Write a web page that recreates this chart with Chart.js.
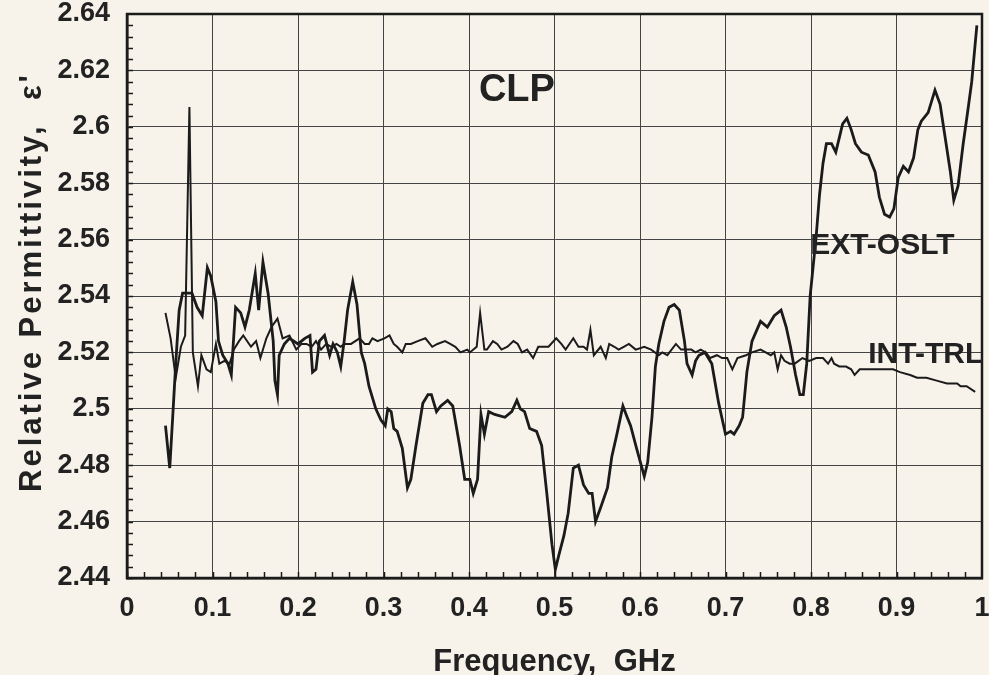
<!DOCTYPE html>
<html>
<head>
<meta charset="utf-8">
<script src="https://cdn.jsdelivr.net/npm/chart.js@4.4.0/dist/chart.umd.min.js"></script>
<style>
  html, body { margin: 0; padding: 0; background: #f7f2ea; }
  #wrap { width: 989px; height: 675px; }
</style>
</head>
<body>
<div id="wrap"><canvas id="chart" width="989" height="675"></canvas></div>
<script>
// INT-TRL measurement (frequency in GHz, relative permittivity)
const intFreq = [0.045, 0.051, 0.057, 0.063, 0.068, 0.073, 0.077, 0.083, 0.087, 0.093, 0.098,
  0.104, 0.108, 0.114, 0.120, 0.125, 0.131, 0.136, 0.145, 0.151, 0.156, 0.163, 0.169, 0.176,
  0.182, 0.190, 0.198, 0.204, 0.210, 0.216, 0.221, 0.227, 0.233, 0.239, 0.245, 0.250, 0.254,
  0.262, 0.272, 0.278, 0.283, 0.287, 0.293, 0.301, 0.307, 0.312, 0.316, 0.322, 0.326, 0.332,
  0.340, 0.349, 0.357, 0.363, 0.372, 0.378, 0.384, 0.390, 0.398, 0.401, 0.409, 0.413, 0.418,
  0.421, 0.428, 0.433, 0.438, 0.445, 0.452, 0.457, 0.462, 0.468, 0.475, 0.481, 0.487, 0.493,
  0.502, 0.508, 0.513, 0.522, 0.528, 0.534, 0.538, 0.542, 0.546, 0.554, 0.560, 0.564, 0.570,
  0.575, 0.581, 0.587, 0.595, 0.605, 0.613, 0.622, 0.626, 0.632, 0.642, 0.648, 0.654, 0.660,
  0.665, 0.671, 0.677, 0.682, 0.690, 0.696, 0.702, 0.708, 0.714, 0.724, 0.731, 0.741, 0.747,
  0.753, 0.757, 0.761, 0.765, 0.769, 0.775, 0.781, 0.790, 0.798, 0.806, 0.814, 0.820, 0.824,
  0.827, 0.833, 0.841, 0.847, 0.851, 0.857, 0.865, 0.876, 0.888, 0.896, 0.904, 0.916, 0.924,
  0.935, 0.947, 0.959, 0.971, 0.975, 0.982, 0.992];
const intEps = [2.534, 2.525, 2.511, 2.522, 2.526, 2.607, 2.520, 2.508, 2.519, 2.514, 2.513,
  2.523, 2.516, 2.517, 2.516, 2.521, 2.524, 2.526, 2.522, 2.524, 2.518, 2.525, 2.529, 2.532,
  2.525, 2.526, 2.521, 2.523, 2.523, 2.522, 2.524, 2.521, 2.523, 2.522, 2.523, 2.522, 2.523,
  2.523, 2.525, 2.523, 2.523, 2.525, 2.524, 2.525, 2.526, 2.523, 2.522, 2.520, 2.523, 2.523,
  2.524, 2.525, 2.522, 2.523, 2.524, 2.523, 2.522, 2.520, 2.521, 2.520, 2.522, 2.534, 2.521,
  2.521, 2.524, 2.523, 2.521, 2.522, 2.524, 2.523, 2.520, 2.521, 2.518, 2.522, 2.522, 2.522,
  2.525, 2.523, 2.521, 2.525, 2.522, 2.522, 2.521, 2.528, 2.519, 2.522, 2.518, 2.523, 2.522,
  2.521, 2.522, 2.523, 2.521, 2.522, 2.521, 2.519, 2.520, 2.519, 2.523, 2.521, 2.521, 2.521,
  2.520, 2.521, 2.520, 2.518, 2.519, 2.518, 2.518, 2.514, 2.518, 2.519, 2.520, 2.521, 2.520,
  2.519, 2.520, 2.514, 2.519, 2.517, 2.516, 2.516, 2.518, 2.517, 2.518, 2.518, 2.516, 2.518,
  2.516, 2.515, 2.515, 2.514, 2.512, 2.514, 2.514, 2.514, 2.514, 2.514, 2.513, 2.512, 2.511,
  2.511, 2.510, 2.509, 2.509, 2.508, 2.508, 2.506];

// EXT-OSLT measurement
const extFreq = [0.045, 0.050, 0.054, 0.057, 0.061, 0.065, 0.069, 0.076, 0.082, 0.088, 0.094,
  0.098, 0.104, 0.107, 0.112, 0.118, 0.122, 0.127, 0.133, 0.138, 0.143, 0.150, 0.154, 0.159,
  0.165, 0.171, 0.173, 0.176, 0.178, 0.184, 0.190, 0.200, 0.208, 0.214, 0.217, 0.221, 0.225,
  0.231, 0.237, 0.241, 0.246, 0.250, 0.254, 0.258, 0.264, 0.269, 0.274, 0.278, 0.283, 0.291,
  0.297, 0.302, 0.305, 0.309, 0.312, 0.316, 0.322, 0.328, 0.332, 0.338, 0.346, 0.352, 0.356,
  0.362, 0.367, 0.375, 0.381, 0.389, 0.395, 0.401, 0.405, 0.410, 0.414, 0.418, 0.423, 0.430,
  0.442, 0.450, 0.456, 0.460, 0.465, 0.471, 0.479, 0.485, 0.491, 0.497, 0.501, 0.505, 0.511,
  0.516, 0.522, 0.528, 0.534, 0.540, 0.544, 0.548, 0.554, 0.562, 0.567, 0.573, 0.580, 0.585,
  0.589, 0.596, 0.605, 0.609, 0.614, 0.618, 0.622, 0.628, 0.634, 0.640, 0.646, 0.652, 0.655,
  0.661, 0.665, 0.669, 0.676, 0.684, 0.692, 0.700, 0.706, 0.710, 0.716, 0.720, 0.725, 0.731,
  0.741, 0.749, 0.757, 0.765, 0.771, 0.776, 0.782, 0.787, 0.791, 0.795, 0.799, 0.806, 0.810,
  0.814, 0.818, 0.824, 0.829, 0.833, 0.837, 0.842, 0.847, 0.852, 0.859, 0.867, 0.875, 0.880,
  0.886, 0.892, 0.897, 0.902, 0.908, 0.914, 0.920, 0.925, 0.929, 0.937, 0.941, 0.945, 0.951,
  0.957, 0.963, 0.967, 0.972, 0.978, 0.984, 0.988, 0.994];
const extEps = [2.494, 2.479, 2.500, 2.516, 2.535, 2.541, 2.541, 2.541, 2.536, 2.533, 2.550,
  2.547, 2.538, 2.524, 2.519, 2.516, 2.512, 2.536, 2.534, 2.529, 2.535, 2.548, 2.535, 2.552,
  2.541, 2.524, 2.510, 2.505, 2.519, 2.523, 2.525, 2.523, 2.525, 2.526, 2.513, 2.514, 2.524,
  2.526, 2.519, 2.523, 2.520, 2.515, 2.524, 2.535, 2.545, 2.537, 2.520, 2.516, 2.508, 2.500,
  2.496, 2.494, 2.500, 2.499, 2.493, 2.492, 2.486, 2.472, 2.475, 2.487, 2.502, 2.505, 2.505,
  2.499, 2.501, 2.503, 2.501, 2.487, 2.475, 2.475, 2.470, 2.475, 2.498, 2.491, 2.499, 2.498,
  2.497, 2.499, 2.503, 2.500, 2.499, 2.493, 2.492, 2.487, 2.470, 2.452, 2.443, 2.448, 2.455,
  2.463, 2.479, 2.480, 2.473, 2.470, 2.470, 2.460, 2.465, 2.472, 2.483, 2.491, 2.501, 2.497,
  2.494, 2.486, 2.476, 2.481, 2.497, 2.515, 2.523, 2.531, 2.536, 2.537, 2.535, 2.524, 2.516,
  2.512, 2.517, 2.519, 2.520, 2.516, 2.502, 2.491, 2.492, 2.491, 2.494, 2.497, 2.513, 2.524,
  2.531, 2.529, 2.533, 2.535, 2.529, 2.522, 2.512, 2.505, 2.505, 2.516, 2.540, 2.561, 2.576,
  2.587, 2.594, 2.594, 2.591, 2.596, 2.601, 2.603, 2.599, 2.594, 2.591, 2.590, 2.584, 2.575,
  2.569, 2.568, 2.571, 2.582, 2.586, 2.584, 2.589, 2.599, 2.602, 2.605, 2.609, 2.613, 2.608,
  2.596, 2.584, 2.574, 2.579, 2.594, 2.607, 2.616, 2.636];

const xTicks = [0, 0.1, 0.2, 0.3, 0.4, 0.5, 0.6, 0.7, 0.8, 0.9, 1];
const yTicks = [2.44, 2.46, 2.48, 2.5, 2.52, 2.54, 2.56, 2.58, 2.6, 2.62, 2.64];

const FONT = "'Liberation Sans', Arial, sans-serif";
const INK = '#1b1b1b';
const yTitle = "Relative Permittivity,  \u03b5'";

// text placed inside the plot, at data coordinates
const notes = [
  { text: 'CLP', x: 0.456, y: 2.613, size: 38, align: 'center' },
  { text: 'EXT-OSLT', x: 0.799, y: 2.558, size: 30, align: 'left' },
  { text: 'INT-TRL', x: 0.867, y: 2.519, size: 30, align: 'left' }
];

const toPoints = (xs, ys) => xs.map((x, i) => ({ x: x, y: ys[i] }));

// frame, minor ticks, text labels and the spaced-out y title
const decor = {
  id: 'decor',
  afterDatasetsDraw(chart) {
    const { ctx, chartArea: a, scales } = chart;
    const xs = scales.x, ys = scales.y;
    ctx.save();
    ctx.strokeStyle = INK;
    ctx.lineWidth = 1.5;
    ctx.beginPath();
    for (let v = 2.44; v < 2.64; v += 0.004) {
      const py = Math.round(ys.getPixelForValue(v)) + 0.5;
      ctx.moveTo(a.left, py); ctx.lineTo(a.left + 6, py);
    }
    for (let v = 0; v < 1; v += 0.02) {
      const px = Math.round(xs.getPixelForValue(v)) + 0.5;
      ctx.moveTo(px, a.bottom); ctx.lineTo(px, a.bottom - 6);
    }
    ctx.stroke();
    ctx.lineWidth = 2.5;
    ctx.strokeRect(a.left, a.top, a.right - a.left, a.bottom - a.top);

    ctx.fillStyle = '#222';
    ctx.textBaseline = 'middle';
    notes.forEach(n => {
      ctx.font = 'bold ' + n.size + 'px ' + FONT;
      ctx.textAlign = n.align;
      ctx.fillText(n.text, xs.getPixelForValue(n.x), ys.getPixelForValue(n.y));
    });
    ctx.restore();
  },
  afterDraw(chart) {
    const { ctx, chartArea: a } = chart;
    ctx.save();
    ctx.translate(32, (a.top + a.bottom) / 2 - 14);
    ctx.rotate(-Math.PI / 2);
    ctx.font = 'bold 31px ' + FONT;
    ctx.letterSpacing = '3px';
    ctx.fillStyle = '#222';
    ctx.textAlign = 'center';
    ctx.textBaseline = 'middle';
    ctx.fillText(yTitle, 0, 0);
    ctx.restore();
  }
};

new Chart(document.getElementById('chart'), {
  type: 'line',
  data: {
    datasets: [
      {
        label: 'EXT-OSLT',
        data: toPoints(extFreq, extEps),
        borderColor: INK,
        borderWidth: 2.8,
        pointRadius: 0,
        tension: 0
      },
      {
        label: 'INT-TRL',
        data: toPoints(intFreq, intEps),
        borderColor: INK,
        borderWidth: 2,
        pointRadius: 0,
        tension: 0
      }
    ]
  },
  options: {
    responsive: false,
    animation: false,
    devicePixelRatio: 1,
    layout: { padding: { top: 14, right: 7, left: 0, bottom: 0 } },
    plugins: { legend: { display: false }, tooltip: { enabled: false } },
    scales: {
      x: {
        type: 'linear',
        min: 0, max: 1,
        afterBuildTicks: s => { s.ticks = xTicks.map(v => ({ value: v })); },
        afterFit: s => { s.height = 97; s.paddingLeft = 0; s.paddingRight = 0; },
        grid: { color: '#444', lineWidth: 1, drawTicks: false },
        border: { color: INK, width: 2.5 },
        ticks: {
          padding: 14,
          color: '#222',
          font: { family: FONT, size: 27, weight: 'bold' },
          callback: v => String(+v.toFixed(1))
        },
        title: {
          display: true,
          text: 'Frequency,  GHz',
          color: '#222',
          padding: { top: 0, bottom: -3 },
          font: { family: FONT, size: 31, weight: 'bold', lineHeight: 1 }
        }
      },
      y: {
        min: 2.44, max: 2.64,
        afterBuildTicks: s => { s.ticks = yTicks.map(v => ({ value: v })); },
        afterFit: s => { s.width = 127; s.paddingTop = 0; s.paddingBottom = 0; },
        grid: { color: '#444', lineWidth: 1, drawTicks: false },
        border: { color: INK, width: 2.5 },
        ticks: {
          padding: 17,
          color: '#222',
          font: { family: FONT, size: 27, weight: 'bold' },
          callback: v => String(+v.toFixed(2))
        },
        title: { display: false }
      }
    }
  },
  plugins: [decor]
});
</script>
</body>
</html>
